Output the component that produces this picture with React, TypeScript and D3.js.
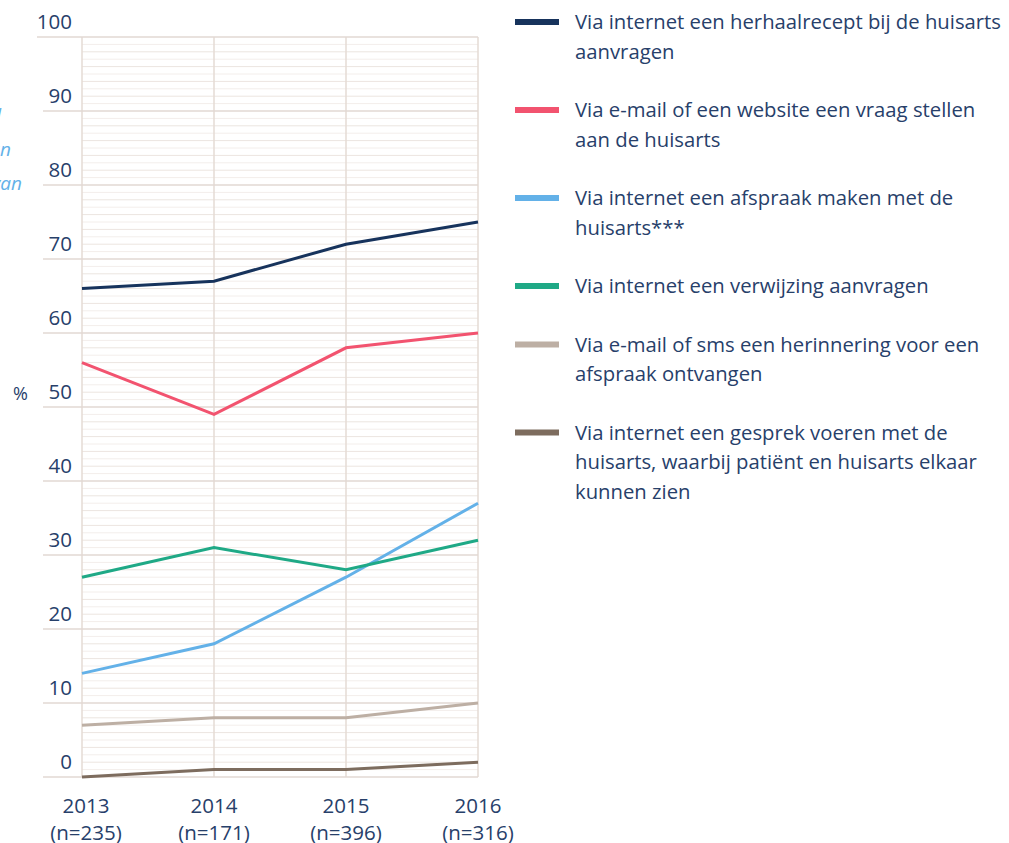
import React from "react";
import * as d3 from "d3";

const years = ["2013", "2014", "2015", "2016"];
const sampleSizes = ["(n=235)", "(n=171)", "(n=396)", "(n=316)"];
const yTicks = [0, 10, 20, 30, 40, 50, 60, 70, 80, 90, 100];

const seriesNames = [
  ["Via internet een herhaalrecept bij de huisarts", "aanvragen"],
  ["Via e-mail of een website een vraag stellen", "aan de huisarts"],
  ["Via internet een afspraak maken met de", "huisarts***"],
  ["Via internet een verwijzing aanvragen"],
  ["Via e-mail of sms een herinnering voor een", "afspraak ontvangen"],
  ["Via internet een gesprek voeren met de", "huisarts, waarbij patiënt en huisarts elkaar", "kunnen zien"],
];
const seriesColors = ["#17335c", "#f2536f", "#63b1e8", "#1fa986", "#bdafa4", "#7d6c5e"];

const herhaalrecept = [66, 67, 72, 75];
const vraagStellen = [56, 49, 58, 60];
const afspraak = [14, 18, 27, 37];
const verwijzing = [27, 31, 28, 32];
const herinnering = [7, 8, 8, 10];
const gesprek = [0, 1, 1, 2];
const seriesValues = [herhaalrecept, vraagStellen, afspraak, verwijzing, herinnering, gesprek];

const clippedTitle = ["Percentage dat gebruik wil", "zou willen maken van", "de volgende diensten van"];

const W = 1009;
const H = 843;
const textColor = "#27406a";
const font = "'Open Sans', sans-serif";

export default function App() {
  const x = d3.scalePoint<string>().domain(years).range([82, 478]);
  const y = d3.scaleLinear().domain([0, 100]).range([777, 37]);
  const minor = d3.range(0, 100).filter((v) => v % 10 !== 0);
  const line = d3
    .line<number>()
    .x((_, i) => x(years[i]) as number)
    .y((v) => y(v));

  let cy = 22;
  const legendY = seriesNames.map((lines) => {
    const p = cy;
    cy += lines.length * 29.5 + 29;
    return p;
  });

  return (
    <svg
      width={W}
      height={H}
      style={{ position: "absolute", left: 0, top: 0, background: "#fff" }}
      fontFamily={font}
    >
      {minor.map((v) => (
        <line
          key={"m" + v}
          x1={82}
          x2={478}
          y1={y(v)}
          y2={y(v)}
          stroke={v % 2 === 0 ? "#ece5e0" : "#f3eeeb"}
          strokeWidth={1}
        />
      ))}
      {years.map((yr) => (
        <line key={"v" + yr} x1={x(yr)} x2={x(yr)} y1={y(100)} y2={y(0)} stroke="#e4dbd5" strokeWidth={1.5} />
      ))}
      {yTicks.map((v) => (
        <line key={"M" + v} x1={v === 100 ? 37 : 43} x2={478} y1={y(v)} y2={y(v)} stroke="#e2d9d3" strokeWidth={1.5} />
      ))}
      {yTicks.map((v) => (
        <text key={"t" + v} x={72} y={y(v) - 8} textAnchor="end" fontSize={20.5} fill={textColor}>
          {v}
        </text>
      ))}
      <text x={13} y={400} fontSize={18} fill={textColor}>
        %
      </text>
      {clippedTitle.map((t, i) => (
        <text
          key={"c" + i}
          x={[1, 11, 22][i]}
          y={122 + i * 34}
          textAnchor="end"
          fontSize={19}
          fontStyle="italic"
          fill="#63b1e8"
        >
          {t}
        </text>
      ))}
      {years.map((yr, i) => (
        <g key={"x" + yr}>
          <text x={(x(yr) as number) + (i === 0 ? 4 : 0)} y={813} textAnchor="middle" fontSize={20.5} fill={textColor}>
            {yr}
          </text>
          <text x={(x(yr) as number) + (i === 0 ? 4 : 0)} y={840} textAnchor="middle" fontSize={20.5} fill={textColor}>
            {sampleSizes[i]}
          </text>
        </g>
      ))}
      {seriesValues.map((vals, i) => (
        <path key={"l" + i} d={line(vals) || ""} fill="none" stroke={seriesColors[i]} strokeWidth={3} />
      ))}
      {seriesNames.map((lines, i) => (
        <g key={"lg" + i}>
          <line x1={515} x2={559} y1={legendY[i]} y2={legendY[i]} stroke={seriesColors[i]} strokeWidth={6} />
          {lines.map((t, j) => (
            <text key={j} x={575} y={legendY[i] + 7 + j * 29.5} fontSize={20.3} fill={textColor}>
              {t}
            </text>
          ))}
        </g>
      ))}
    </svg>
  );
}
